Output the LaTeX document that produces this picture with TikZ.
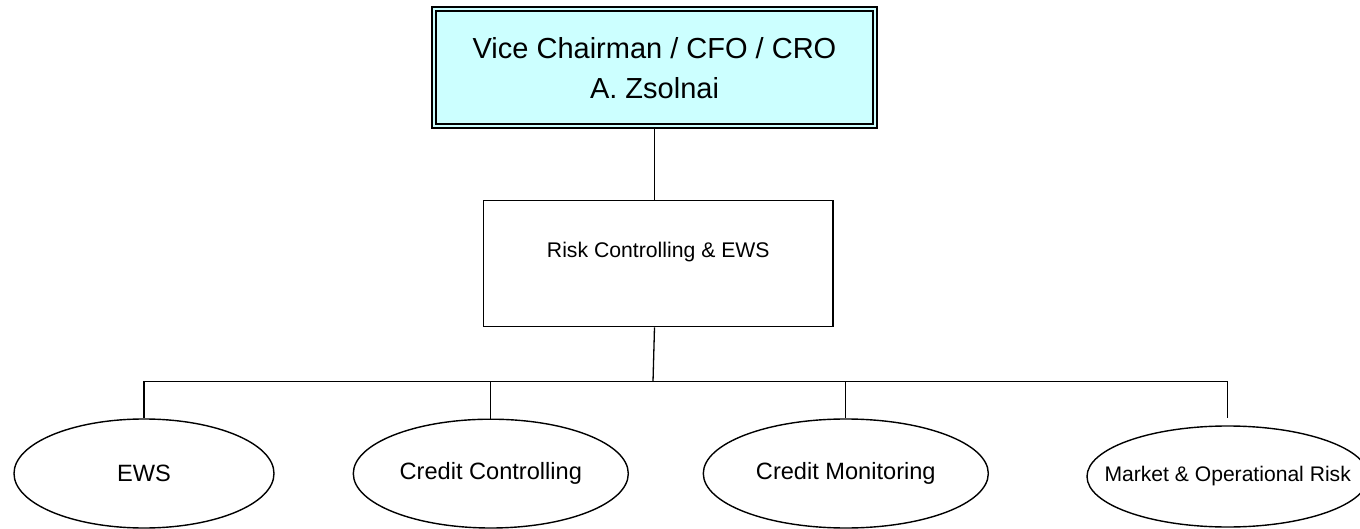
\documentclass[tikz,border=0pt]{standalone}
\usepackage{fontspec}
\setmainfont{Liberation Sans}
\usetikzlibrary{shapes.geometric}
\definecolor{boxcyan}{HTML}{CCFFFF}
\begin{document}
\begin{tikzpicture}[x=0.5pt,y=-0.5pt,
  headbox/.style={draw, line width=1pt, fill=boxcyan, rectangle, inner sep=0pt,
    minimum width=222.5pt, minimum height=60.5pt, align=center,
    font=\fontsize{14.5}{20}\selectfont},
  unitbox/.style={draw, line width=0.6pt, rectangle, inner sep=0pt,
    minimum width=174.7pt, minimum height=63.2pt,
    text height=8pt, text depth=13.9pt,
    font=\fontsize{10.6}{12}\selectfont},
  dept/.style={draw, line width=0.7pt, ellipse, inner sep=0pt,
    font=\fontsize{11.8}{14}\selectfont},
  link/.style={line width=0.65pt}]
\useasboundingbox (0,0) rectangle (1360,529);

\node[headbox] (top) at (654.5,67.7) {Vice Chairman / CFO / CRO\\A. Zsolnai};
\draw[line width=0.7pt] ([shift={(2.5pt,-2.5pt)}]top.north west) rectangle ([shift={(-2.5pt,2.5pt)}]top.south east);

\node[unitbox] (mid) at (658.3,263.5) {Risk Controlling \& EWS};

\node[dept, minimum width=130pt, minimum height=54.5pt] (e1) at (144,473.5) {\makebox[0pt]{EWS}};
\node[dept, minimum width=137.5pt, minimum height=54.4pt] (e2) at (490.8,473.6) {\makebox[0pt]{Credit Controlling}};
\node[dept, minimum width=142.5pt, minimum height=54.5pt] (e3) at (845.8,473.5) {\makebox[0pt]{Credit Monitoring}};
\node[dept, minimum width=140.7pt, minimum height=50.5pt, font=\fontsize{10.55}{12}\selectfont] (e4) at (1227.7,476.5) {\makebox[0pt]{Market \& Operational Risk}};

\coordinate (bus) at (653,381.7);

\draw[link] (top.south) -- (top.south |- mid.north);
\draw[link] (top.south |- mid.south) -- (bus);
\draw[link] (bus) -| (e1.north);
\draw[link] (bus) -| (e2.north);
\draw[link] (bus) -| (e3.north);
\draw[link] (bus) -| (e4.north |- e1.north);
\end{tikzpicture}
\end{document}
